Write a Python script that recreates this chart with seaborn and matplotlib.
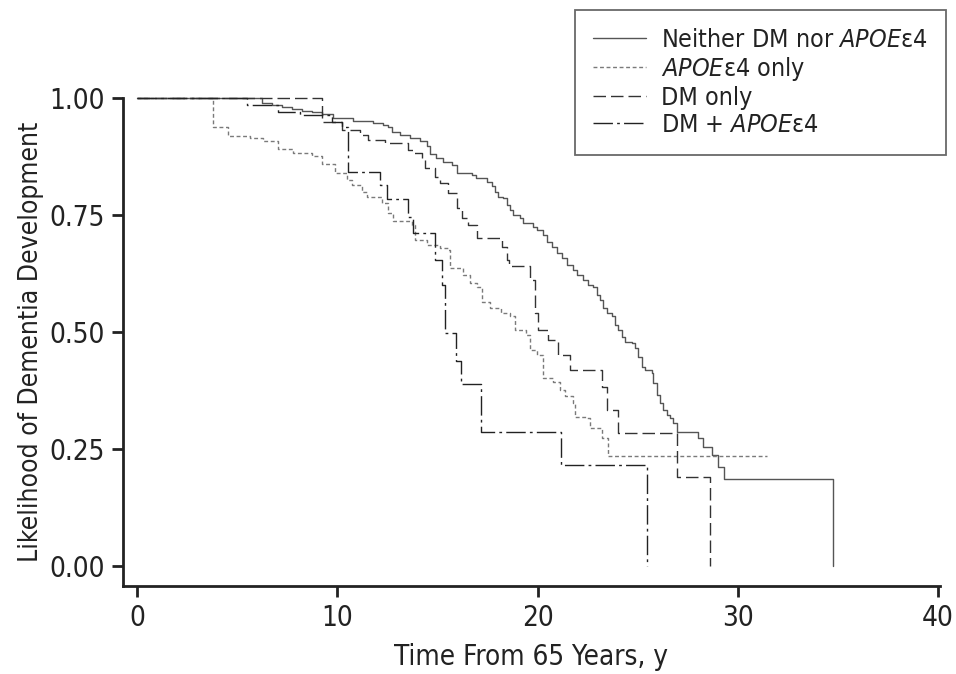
import matplotlib
matplotlib.use("Agg")
import matplotlib.pyplot as plt
import seaborn as sns
import pandas as pd

# ---- data (Kaplan-Meier step points: time in years, survival after the step) ----
groups = ["Neither", "APOE", "DM", "DMAPOE"]
legend_labels = ["Neither DM nor $\\mathit{APOE}$\u03b54",
                 "$\\mathit{APOE}$\u03b54 only",
                 "DM only",
                 "DM + $\\mathit{APOE}$\u03b54"]

neither_t = [0, 6.23, 6.74, 7.24, 7.74, 8.24, 8.74, 9.24, 9.79, 10.79, 11.79, 12.28, 12.53,
             12.73, 13.13, 13.63, 14.13, 14.48, 14.63, 14.93, 15.28, 15.73, 15.98, 16.73,
             16.93, 17.48, 17.73, 17.88, 18.03, 18.28, 18.48, 18.63, 18.78, 19.13, 19.28,
             19.78, 19.98, 20.27, 20.47, 20.72, 20.97, 21.22, 21.47, 21.77, 21.97, 22.27,
             22.52, 22.77, 22.97, 23.12, 23.27, 23.47, 23.72, 23.87, 24.02, 24.22, 24.37,
             24.72, 24.87, 25.02, 25.22, 25.37, 25.72, 25.77, 25.97, 26.12, 26.27, 26.47,
             26.62, 26.77, 26.97, 28.02, 28.26, 28.71, 29.01, 29.31, 34.76]
neither_s = [1.0, 0.990, 0.985, 0.981, 0.977, 0.973, 0.969, 0.965, 0.957, 0.951, 0.946, 0.942,
             0.937, 0.928, 0.921, 0.914, 0.907, 0.898, 0.880, 0.871, 0.864, 0.857, 0.839,
             0.835, 0.828, 0.821, 0.811, 0.800, 0.789, 0.786, 0.771, 0.760, 0.750, 0.743,
             0.732, 0.725, 0.718, 0.707, 0.693, 0.682, 0.668, 0.658, 0.643, 0.632, 0.622,
             0.611, 0.600, 0.597, 0.579, 0.568, 0.551, 0.540, 0.533, 0.515, 0.504, 0.490,
             0.479, 0.476, 0.465, 0.447, 0.426, 0.419, 0.412, 0.390, 0.365, 0.348, 0.333,
             0.323, 0.316, 0.305, 0.287, 0.273, 0.255, 0.237, 0.212, 0.185, 0.0]

apoe_t = [0, 3.78, 4.56, 5.64, 6.31, 7.06, 7.81, 8.72, 9.22, 9.89, 10.49, 10.74, 11.24, 11.49,
          12.23, 12.53, 12.78, 13.73, 13.88, 14.48, 15.13, 15.53, 15.63, 16.28, 16.63, 16.98,
          17.23, 17.63, 18.18, 18.63, 18.88, 19.43, 19.63, 19.98, 20.27, 20.77, 21.12, 21.37,
          21.77, 21.87, 22.47, 22.62, 23.22, 23.52, 31.44]
apoe_s = [1.0, 0.937, 0.919, 0.915, 0.907, 0.892, 0.882, 0.875, 0.859, 0.839, 0.825, 0.814,
          0.800, 0.789, 0.775, 0.754, 0.736, 0.729, 0.697, 0.686, 0.679, 0.675, 0.636, 0.622,
          0.604, 0.597, 0.565, 0.551, 0.540, 0.533, 0.504, 0.494, 0.462, 0.451, 0.401, 0.394,
          0.376, 0.362, 0.348, 0.319, 0.316, 0.294, 0.273, 0.235, 0.235]

dm_t = [0, 9.22, 10.22, 11.14, 11.54, 12.38, 13.53, 13.78, 14.23, 14.38, 14.88, 15.13, 15.53,
        15.98, 16.23, 16.53, 16.98, 18.23, 18.48, 18.58, 19.63, 19.88, 20.03, 20.52, 21.02,
        21.62, 23.22, 23.47, 24.02, 26.97, 28.61]
dm_s = [1.0, 0.949, 0.932, 0.921, 0.910, 0.903, 0.889, 0.882, 0.868, 0.850, 0.832, 0.818,
        0.797, 0.764, 0.743, 0.729, 0.700, 0.682, 0.654, 0.640, 0.611, 0.540, 0.504, 0.483,
        0.451, 0.419, 0.383, 0.333, 0.285, 0.190, 0.0]

dmapoe_t = [0, 5.48, 7.04, 8.14, 9.74, 10.24, 10.54, 12.13, 12.48, 13.53, 13.78, 14.88, 15.23,
            15.38, 15.93, 16.18, 17.18, 21.17, 25.47]
dmapoe_s = [1.0, 0.985, 0.971, 0.964, 0.949, 0.938, 0.842, 0.814, 0.784, 0.746, 0.711, 0.654,
            0.600, 0.497, 0.438, 0.389, 0.287, 0.216, 0.0]

x_ticks = [0, 10, 20, 30, 40]
y_ticks = [0.0, 0.25, 0.50, 0.75, 1.00]
y_ticklabels = ["0.00", "0.25", "0.50", "0.75", "1.00"]

# ---- build table ----
series = {"Neither": (neither_t, neither_s), "APOE": (apoe_t, apoe_s),
          "DM": (dm_t, dm_s), "DMAPOE": (dmapoe_t, dmapoe_s)}
rows = []
for g in groups:
    for t, s in zip(*series[g]):
        rows.append({"group": g, "time": t, "surv": s})
df = pd.DataFrame(rows)

sns.set_style("white")
plt.rcParams["font.family"] = ["DejaVu Sans"]
plt.rcParams["font.stretch"] = "condensed"
plt.rcParams["mathtext.fontset"] = "custom"
plt.rcParams["mathtext.it"] = "DejaVu Sans:italic"
plt.rcParams["mathtext.rm"] = "DejaVu Sans"

fig = plt.figure(figsize=(9.56, 6.74), dpi=100)
ax = fig.add_axes([123 / 956, (674 - 586) / 674, 817 / 956, 576 / 674])

palette = {"Neither": "#555555", "APOE": "#7a7a7a", "DM": "#333333", "DMAPOE": "#222222"}
dashes = {"Neither": "", "APOE": (2.8, 1.9), "DM": (9, 3.6), "DMAPOE": (14, 3, 2, 3)}

sns.lineplot(data=df, x="time", y="surv", hue="group", style="group",
             hue_order=groups, style_order=groups, palette=palette, dashes=dashes,
             estimator=None, drawstyle="steps-post", linewidth=1.0, legend=False,
             sort=False, ax=ax)

ax.set_xlim(-0.7, 40.1)
ax.set_ylim(-0.043, 1.188)
ax.set_xticks(x_ticks)
ax.set_yticks(y_ticks)
ax.set_yticklabels(y_ticklabels)

for side in ["top", "right"]:
    ax.spines[side].set_visible(False)
for side in ["left", "bottom"]:
    ax.spines[side].set_linewidth(2.0)
    ax.spines[side].set_color("#222222")
ax.spines["left"].set_bounds(-0.043, 1.0)
ax.tick_params(axis="both", direction="out", length=8, width=2.0, color="#222222",
               labelsize=20, labelcolor="#222222", pad=5, left=True, bottom=True)

ax.set_xlabel("Time From 65 Years, y", fontsize=20, color="#222222", labelpad=8)
ax.set_ylabel("Likelihood of Dementia Development", fontsize=19, color="#222222")
ax.yaxis.set_label_coords(-0.097, (586 - 342) / 576)

handles = ax.get_lines()[:4]
leg = ax.legend(handles, legend_labels, loc="upper right",
                bbox_to_anchor=(946 / 956, 1 - 10 / 674), bbox_transform=fig.transFigure,
                borderaxespad=0, fontsize=18, frameon=True, fancybox=False,
                handlelength=2.15, handletextpad=0.6, labelspacing=0.12, borderpad=0.72)
leg.get_frame().set_edgecolor("#444444")
leg.get_frame().set_linewidth(1.3)
for txt in leg.get_texts():
    txt.set_color("#222222")

fig.savefig("out.png", dpi=100)
